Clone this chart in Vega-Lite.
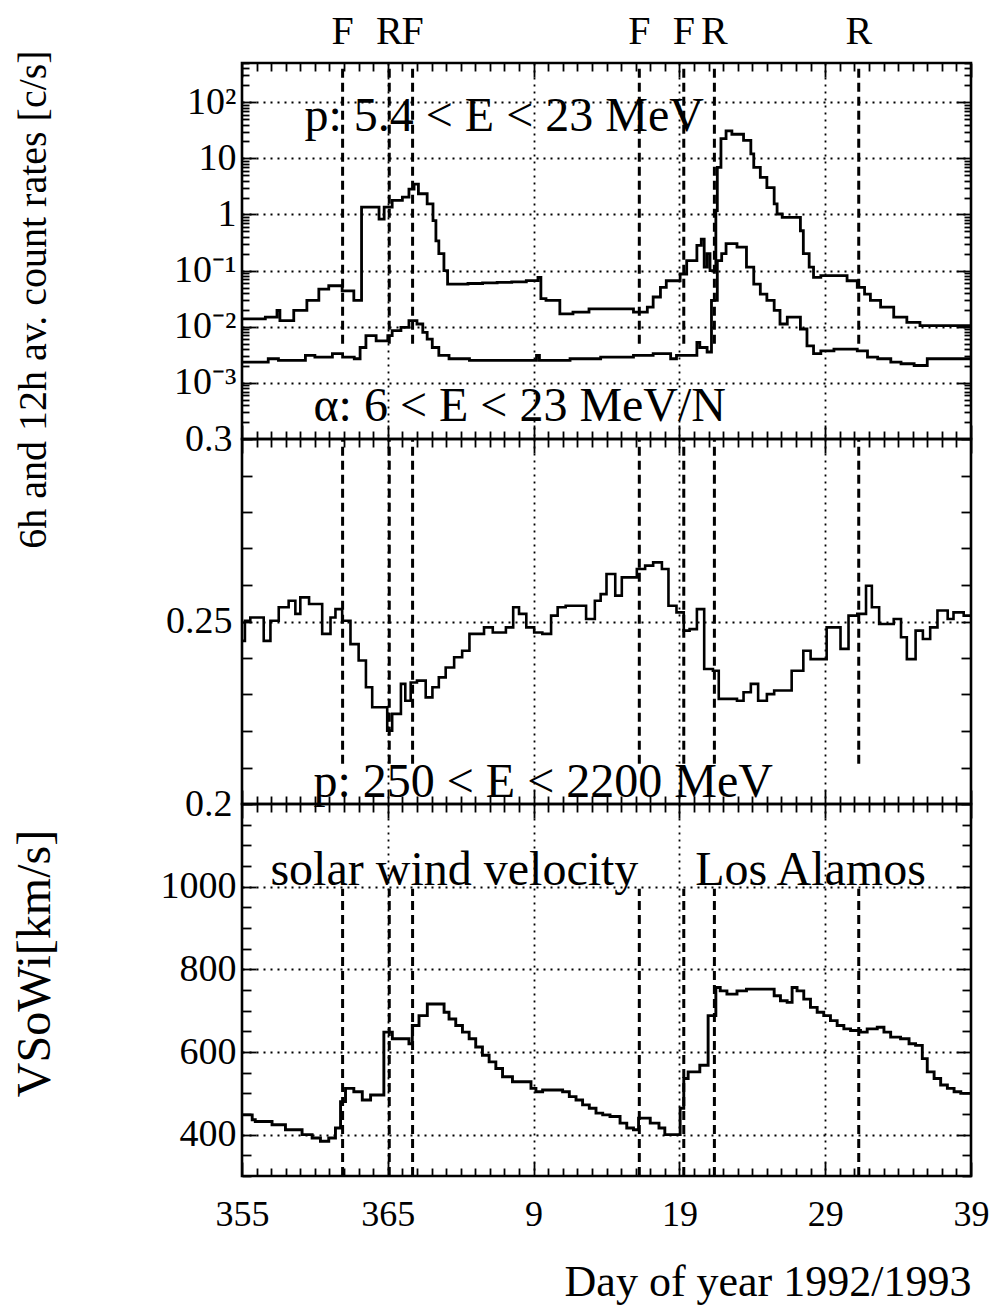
{
  "$schema": "https://vega.github.io/schema/vega-lite/v6.json",
  "background": "white",
  "padding": {"left": 9, "top": 10, "right": 5, "bottom": 5},
  "bounds": "flush",
  "spacing": 0,
  "config": {
    "font": "Liberation Serif",
    "view": {"stroke": "black", "strokeWidth": 2.6},
    "style": {"guide-label": {"font": "Liberation Serif"}, "guide-title": {"font": "Liberation Serif"}},
    "axis": {"domain": false, "tickColor": "black", "tickWidth": 1.8, "labelColor": "black", "labelFont": "Liberation Serif", "labelFontSize": 38, "titleFont": "Liberation Serif", "titleFontWeight": "normal", "titleColor": "black", "titleFontSize": 40, "labelFlush": false, "labelOverlap": false, "labelBound": false, "gridColor": "black", "gridDash": [2, 5], "gridWidth": 1.8},
    "text": {"font": "Liberation Serif", "color": "black"}
  },
  "datasets": {
    "events": [
      {"t": 6.9, "lab": "F"}, {"t": 10.1, "lab": "R"}, {"t": 11.7, "lab": "F"},
      {"t": 27.25, "lab": "F"}, {"t": 30.3, "lab": "F"}, {"t": 32.4, "lab": "R"}, {"t": 42.3, "lab": "R"}
    ],
    "top": [
      {"s": "p", "t": 0, "v": 0.0138}, {"s": "p", "t": 1.6, "v": 0.0148}, {"s": "p", "t": 2.4, "v": 0.0195}, {"s": "p", "t": 2.6, "v": 0.0129},
      {"s": "p", "t": 3.55, "v": 0.0195}, {"s": "p", "t": 4.45, "v": 0.0295}, {"s": "p", "t": 5.27, "v": 0.0468}, {"s": "p", "t": 5.95, "v": 0.0537},
      {"s": "p", "t": 6.87, "v": 0.0437}, {"s": "p", "t": 7.67, "v": 0.0295}, {"s": "p", "t": 8.2, "v": 1.35}, {"s": "p", "t": 9.4, "v": 0.83},
      {"s": "p", "t": 9.75, "v": 1.35}, {"s": "p", "t": 10.3, "v": 1.78}, {"s": "p", "t": 11.0, "v": 2.04}, {"s": "p", "t": 11.45, "v": 2.82},
      {"s": "p", "t": 11.8, "v": 3.47}, {"s": "p", "t": 12.1, "v": 2.34}, {"s": "p", "t": 12.7, "v": 1.55}, {"s": "p", "t": 13.1, "v": 0.776},
      {"s": "p", "t": 13.3, "v": 0.339}, {"s": "p", "t": 13.5, "v": 0.2}, {"s": "p", "t": 13.85, "v": 0.1}, {"s": "p", "t": 14.1, "v": 0.0575},
      {"s": "p", "t": 15.5, "v": 0.0589}, {"s": "p", "t": 16.5, "v": 0.0603}, {"s": "p", "t": 17.5, "v": 0.0617}, {"s": "p", "t": 18.5, "v": 0.0631},
      {"s": "p", "t": 19.5, "v": 0.0661}, {"s": "p", "t": 20.3, "v": 0.0759}, {"s": "p", "t": 20.5, "v": 0.0316}, {"s": "p", "t": 20.85, "v": 0.0295},
      {"s": "p", "t": 21.8, "v": 0.017}, {"s": "p", "t": 22.7, "v": 0.0182}, {"s": "p", "t": 23.8, "v": 0.0209}, {"s": "p", "t": 26.85, "v": 0.0182},
      {"s": "p", "t": 27.8, "v": 0.0224}, {"s": "p", "t": 28.2, "v": 0.0339}, {"s": "p", "t": 28.7, "v": 0.0501}, {"s": "p", "t": 29.1, "v": 0.066},
      {"s": "p", "t": 30.05, "v": 0.087}, {"s": "p", "t": 30.5, "v": 0.151}, {"s": "p", "t": 31.2, "v": 0.282}, {"s": "p", "t": 31.5, "v": 0.363},
      {"s": "p", "t": 31.7, "v": 0.115}, {"s": "p", "t": 31.9, "v": 0.2}, {"s": "p", "t": 32.1, "v": 0.1}, {"s": "p", "t": 32.5, "v": 1.17},
      {"s": "p", "t": 32.6, "v": 6.92}, {"s": "p", "t": 32.85, "v": 22.4}, {"s": "p", "t": 33.2, "v": 30.9}, {"s": "p", "t": 33.6, "v": 26.9},
      {"s": "p", "t": 34.4, "v": 20.9}, {"s": "p", "t": 34.9, "v": 12.0}, {"s": "p", "t": 35.1, "v": 6.92}, {"s": "p", "t": 35.55, "v": 4.57},
      {"s": "p", "t": 36.0, "v": 3.02}, {"s": "p", "t": 36.5, "v": 1.55}, {"s": "p", "t": 36.7, "v": 1.02}, {"s": "p", "t": 37.05, "v": 0.891},
      {"s": "p", "t": 38.3, "v": 0.513}, {"s": "p", "t": 38.5, "v": 0.2}, {"s": "p", "t": 38.9, "v": 0.115}, {"s": "p", "t": 39.2, "v": 0.0759},
      {"s": "p", "t": 39.7, "v": 0.0813}, {"s": "p", "t": 41.5, "v": 0.066}, {"s": "p", "t": 42.2, "v": 0.0501}, {"s": "p", "t": 42.7, "v": 0.038},
      {"s": "p", "t": 43.1, "v": 0.0295}, {"s": "p", "t": 43.8, "v": 0.0224}, {"s": "p", "t": 44.7, "v": 0.0148}, {"s": "p", "t": 45.6, "v": 0.012},
      {"s": "p", "t": 46.5, "v": 0.0105}, {"s": "p", "t": 50, "v": 0.0105},
      {"s": "a", "t": 0, "v": 0.00234}, {"s": "a", "t": 1.8, "v": 0.00269}, {"s": "a", "t": 2.5, "v": 0.00251}, {"s": "a", "t": 4.35, "v": 0.00309},
      {"s": "a", "t": 5.0, "v": 0.00288}, {"s": "a", "t": 6.2, "v": 0.00331}, {"s": "a", "t": 6.9, "v": 0.00288}, {"s": "a", "t": 7.7, "v": 0.00269},
      {"s": "a", "t": 8.1, "v": 0.00427}, {"s": "a", "t": 8.5, "v": 0.00692}, {"s": "a", "t": 9.2, "v": 0.00562}, {"s": "a", "t": 10.0, "v": 0.00692},
      {"s": "a", "t": 10.3, "v": 0.00851}, {"s": "a", "t": 10.9, "v": 0.00977}, {"s": "a", "t": 11.45, "v": 0.0129}, {"s": "a", "t": 12.0, "v": 0.0112},
      {"s": "a", "t": 12.4, "v": 0.00794}, {"s": "a", "t": 12.7, "v": 0.00603}, {"s": "a", "t": 13.05, "v": 0.00427}, {"s": "a", "t": 13.5, "v": 0.00309},
      {"s": "a", "t": 14.2, "v": 0.00269}, {"s": "a", "t": 15.6, "v": 0.00251}, {"s": "a", "t": 20.2, "v": 0.00309}, {"s": "a", "t": 20.4, "v": 0.00251},
      {"s": "a", "t": 22.5, "v": 0.00269}, {"s": "a", "t": 24.6, "v": 0.00288}, {"s": "a", "t": 26.85, "v": 0.00309}, {"s": "a", "t": 28.2, "v": 0.00331},
      {"s": "a", "t": 29.4, "v": 0.00269}, {"s": "a", "t": 29.8, "v": 0.00309}, {"s": "a", "t": 31.2, "v": 0.00525}, {"s": "a", "t": 31.4, "v": 0.00427},
      {"s": "a", "t": 31.9, "v": 0.00355}, {"s": "a", "t": 32.2, "v": 0.0295}, {"s": "a", "t": 32.6, "v": 0.151}, {"s": "a", "t": 32.9, "v": 0.2},
      {"s": "a", "t": 33.2, "v": 0.302}, {"s": "a", "t": 33.95, "v": 0.263}, {"s": "a", "t": 34.6, "v": 0.115}, {"s": "a", "t": 35.1, "v": 0.0575},
      {"s": "a", "t": 35.55, "v": 0.038}, {"s": "a", "t": 36.0, "v": 0.0295}, {"s": "a", "t": 36.5, "v": 0.0195}, {"s": "a", "t": 36.9, "v": 0.0112},
      {"s": "a", "t": 37.4, "v": 0.0148}, {"s": "a", "t": 38.3, "v": 0.00912}, {"s": "a", "t": 38.75, "v": 0.00457}, {"s": "a", "t": 39.2, "v": 0.00331},
      {"s": "a", "t": 39.7, "v": 0.00372}, {"s": "a", "t": 40.6, "v": 0.00398}, {"s": "a", "t": 42.2, "v": 0.00372}, {"s": "a", "t": 42.9, "v": 0.00288},
      {"s": "a", "t": 43.6, "v": 0.00269}, {"s": "a", "t": 44.5, "v": 0.00234}, {"s": "a", "t": 45.2, "v": 0.00219}, {"s": "a", "t": 46.1, "v": 0.00204},
      {"s": "a", "t": 47.0, "v": 0.00269}, {"s": "a", "t": 50, "v": 0.00269}
    ],
    "mid": [
      {"t": 0, "v": 0.2447}, {"t": 0.2, "v": 0.2502}, {"t": 0.57, "v": 0.2511}, {"t": 1.49, "v": 0.2447}, {"t": 1.95, "v": 0.2502},
      {"t": 2.52, "v": 0.2539}, {"t": 3.2, "v": 0.2557}, {"t": 3.66, "v": 0.2521}, {"t": 4.0, "v": 0.2566}, {"t": 4.6, "v": 0.2548},
      {"t": 5.5, "v": 0.2466}, {"t": 6.07, "v": 0.2511}, {"t": 6.41, "v": 0.2534}, {"t": 6.87, "v": 0.2502}, {"t": 7.44, "v": 0.2438},
      {"t": 8.0, "v": 0.2393}, {"t": 8.5, "v": 0.232}, {"t": 8.93, "v": 0.2265}, {"t": 9.96, "v": 0.2201}, {"t": 10.3, "v": 0.2247},
      {"t": 10.9, "v": 0.2329}, {"t": 11.2, "v": 0.2283}, {"t": 11.57, "v": 0.2333}, {"t": 12.0, "v": 0.2338}, {"t": 12.6, "v": 0.2292},
      {"t": 13.06, "v": 0.232}, {"t": 13.5, "v": 0.2347}, {"t": 13.97, "v": 0.2374}, {"t": 14.55, "v": 0.2402}, {"t": 15.1, "v": 0.242},
      {"t": 15.6, "v": 0.2466}, {"t": 16.6, "v": 0.2484}, {"t": 17.2, "v": 0.247}, {"t": 18.1, "v": 0.2484}, {"t": 18.6, "v": 0.2539},
      {"t": 19.0, "v": 0.2521}, {"t": 19.5, "v": 0.2484}, {"t": 20.04, "v": 0.247}, {"t": 20.6, "v": 0.2466}, {"t": 21.2, "v": 0.2516},
      {"t": 21.65, "v": 0.2539}, {"t": 22.2, "v": 0.2543}, {"t": 23.6, "v": 0.2507}, {"t": 24.2, "v": 0.2557}, {"t": 24.6, "v": 0.2575},
      {"t": 25.0, "v": 0.263}, {"t": 25.6, "v": 0.2571}, {"t": 26.05, "v": 0.2621}, {"t": 27.08, "v": 0.2644}, {"t": 27.65, "v": 0.2653},
      {"t": 28.2, "v": 0.2662}, {"t": 28.8, "v": 0.2644}, {"t": 29.25, "v": 0.2543}, {"t": 29.8, "v": 0.2525}, {"t": 30.3, "v": 0.2475},
      {"t": 30.7, "v": 0.2479}, {"t": 31.2, "v": 0.2534}, {"t": 31.7, "v": 0.237}, {"t": 32.3, "v": 0.2365}, {"t": 32.7, "v": 0.2288},
      {"t": 33.95, "v": 0.2283}, {"t": 34.4, "v": 0.2306}, {"t": 34.9, "v": 0.2329}, {"t": 35.4, "v": 0.2283}, {"t": 36.0, "v": 0.2301},
      {"t": 36.5, "v": 0.2311}, {"t": 37.7, "v": 0.2365}, {"t": 38.5, "v": 0.242}, {"t": 39.0, "v": 0.2397}, {"t": 40.1, "v": 0.2484},
      {"t": 41.05, "v": 0.2425}, {"t": 41.6, "v": 0.2516}, {"t": 42.2, "v": 0.2521}, {"t": 42.8, "v": 0.2598}, {"t": 43.2, "v": 0.2539},
      {"t": 43.7, "v": 0.2493}, {"t": 44.7, "v": 0.2507}, {"t": 45.2, "v": 0.2457}, {"t": 45.6, "v": 0.2397}, {"t": 46.2, "v": 0.2475},
      {"t": 46.7, "v": 0.2452}, {"t": 47.2, "v": 0.2484}, {"t": 47.7, "v": 0.253}, {"t": 48.4, "v": 0.2507}, {"t": 48.8, "v": 0.2525},
      {"t": 49.5, "v": 0.2516}, {"t": 50, "v": 0.2516}
    ],
    "wind": [
      {"t": 0, "v": 448}, {"t": 0.7, "v": 436}, {"t": 0.91, "v": 432}, {"t": 2.06, "v": 424}, {"t": 2.98, "v": 412},
      {"t": 4.12, "v": 400}, {"t": 4.81, "v": 392}, {"t": 5.38, "v": 384}, {"t": 5.95, "v": 392}, {"t": 6.41, "v": 416},
      {"t": 6.76, "v": 480}, {"t": 7.1, "v": 512}, {"t": 7.67, "v": 504}, {"t": 8.25, "v": 484}, {"t": 8.82, "v": 496},
      {"t": 9.73, "v": 648}, {"t": 10.31, "v": 632}, {"t": 11.45, "v": 620}, {"t": 11.68, "v": 664}, {"t": 12.14, "v": 688},
      {"t": 12.71, "v": 716}, {"t": 13.86, "v": 696}, {"t": 14.2, "v": 680}, {"t": 14.66, "v": 664}, {"t": 15.12, "v": 648},
      {"t": 15.58, "v": 632}, {"t": 16.03, "v": 612}, {"t": 16.49, "v": 592}, {"t": 16.95, "v": 576}, {"t": 17.41, "v": 560},
      {"t": 17.87, "v": 540}, {"t": 18.55, "v": 528}, {"t": 19.82, "v": 512}, {"t": 20.16, "v": 504}, {"t": 20.62, "v": 508},
      {"t": 21.99, "v": 504}, {"t": 22.45, "v": 492}, {"t": 22.91, "v": 484}, {"t": 23.36, "v": 472}, {"t": 23.82, "v": 464},
      {"t": 24.28, "v": 452}, {"t": 24.74, "v": 448}, {"t": 25.24, "v": 444}, {"t": 25.93, "v": 428}, {"t": 26.39, "v": 416},
      {"t": 26.85, "v": 412}, {"t": 27.2, "v": 440}, {"t": 28.0, "v": 428}, {"t": 28.6, "v": 416}, {"t": 29.0, "v": 400},
      {"t": 30.05, "v": 464}, {"t": 30.3, "v": 536}, {"t": 30.6, "v": 552}, {"t": 31.4, "v": 568}, {"t": 31.97, "v": 688},
      {"t": 32.5, "v": 756}, {"t": 32.8, "v": 748}, {"t": 33.26, "v": 740}, {"t": 33.95, "v": 748}, {"t": 34.6, "v": 752},
      {"t": 36.5, "v": 736}, {"t": 36.93, "v": 724}, {"t": 37.39, "v": 720}, {"t": 37.73, "v": 756}, {"t": 38.07, "v": 748},
      {"t": 38.53, "v": 728}, {"t": 38.99, "v": 708}, {"t": 39.45, "v": 696}, {"t": 39.9, "v": 688}, {"t": 40.36, "v": 676},
      {"t": 40.82, "v": 664}, {"t": 41.28, "v": 656}, {"t": 41.74, "v": 652}, {"t": 42.42, "v": 648}, {"t": 42.88, "v": 656},
      {"t": 43.57, "v": 660}, {"t": 44.03, "v": 648}, {"t": 44.49, "v": 636}, {"t": 45.17, "v": 632}, {"t": 45.75, "v": 620},
      {"t": 46.2, "v": 616}, {"t": 46.66, "v": 584}, {"t": 47.0, "v": 552}, {"t": 47.47, "v": 536}, {"t": 47.92, "v": 520},
      {"t": 48.38, "v": 512}, {"t": 48.84, "v": 504}, {"t": 49.3, "v": 500}, {"t": 50, "v": 500}
    ]
  },
  "vconcat": [
    {
      "width": 729, "height": 376,
      "layer": [
        {
          "data": {"name": "top"},
          "mark": {"type": "line", "interpolate": "step-after", "color": "black", "strokeWidth": 2.8},
          "encoding": {
            "x": {"field": "t", "type": "quantitative", "scale": {"domain": [0, 50], "nice": false, "zero": false},
              "axis": {"orient": "bottom", "labels": false, "title": null,
                "values": [0,1,2,3,4,5,6,7,8,9,10,11,12,13,14,15,16,17,18,19,20,21,22,23,24,25,26,27,28,29,30,31,32,33,34,35,36,37,38,39,40,41,42,43,44,45,46,47,48,49,50],
                "tickSize": {"condition": {"test": "datum.value % 10 === 0", "value": -14}, "value": -8},
                "grid": true,
                "gridOpacity": {"condition": {"test": "datum.value % 10 === 0 && datum.value > 0 && datum.value < 50", "value": 1}, "value": 0}}},
            "y": {"field": "v", "type": "quantitative", "scale": {"type": "log", "domain": [0.0001, 500], "nice": false},
              "axis": {"orient": "left", "title": "6h and 12h av. count rates [c/s]", "titleFont": "Liberation Serif", "labelFont": "Liberation Serif", "titleX": -197, "titleY": 236, "titleAngle": 270, "titleAlign": "center", "titleBaseline": "alphabetic",
                "values": [0.0001,0.0002,0.0003,0.0004,0.0005,0.0006,0.0007,0.0008,0.0009,0.001,0.002,0.003,0.004,0.005,0.006,0.007,0.008,0.009,0.01,0.02,0.03,0.04,0.05,0.06,0.07,0.08,0.09,0.1,0.2,0.3,0.4,0.5,0.6,0.7,0.8,0.9,1,2,3,4,5,6,7,8,9,10,20,30,40,50,60,70,80,90,100,200,300,400,500],
                "labelExpr": "abs(log(datum.value)/LN10-round(log(datum.value)/LN10))>0.01 || datum.value<0.0005 ? '' : datum.value>50 ? '10²' : datum.value>5 ? '10' : datum.value>0.5 ? '1' : datum.value>0.05 ? '10⁻¹' : datum.value>0.005 ? '10⁻²' : '10⁻³'",
                "labelPadding": 20,
                "tickSize": {"condition": {"test": "abs(log(datum.value)/LN10-round(log(datum.value)/LN10))<0.01", "value": -14}, "value": -7},
                "grid": true,
                "gridOpacity": {"condition": {"test": "abs(log(datum.value)/LN10-round(log(datum.value)/LN10))<0.01 && datum.value>0.0005 && datum.value<400", "value": 1}, "value": 0}}},
            "detail": {"field": "s"}
          }
        },
        {
          "data": {"name": "events"},
          "mark": {"type": "rule", "strokeDash": [9, 5], "strokeWidth": 3, "color": "black"},
          "encoding": {
            "x": {"field": "t", "type": "quantitative", "scale": {"domain": [0, 50], "nice": false, "zero": false},
              "axis": {"orient": "top", "labels": false, "title": null, "grid": false,
                "values": [0,1,2,3,4,5,6,7,8,9,10,11,12,13,14,15,16,17,18,19,20,21,22,23,24,25,26,27,28,29,30,31,32,33,34,35,36,37,38,39,40,41,42,43,44,45,46,47,48,49,50],
                "tickSize": {"condition": {"test": "datum.value % 10 === 0", "value": -14}, "value": -8}}},
            "y": {"datum": 0.005, "type": "quantitative", "scale": {"type": "log", "domain": [0.0001, 500], "nice": false},
              "axis": {"orient": "right", "labels": false, "title": null, "grid": false,
                "values": [0.0001,0.0002,0.0003,0.0004,0.0005,0.0006,0.0007,0.0008,0.0009,0.001,0.002,0.003,0.004,0.005,0.006,0.007,0.008,0.009,0.01,0.02,0.03,0.04,0.05,0.06,0.07,0.08,0.09,0.1,0.2,0.3,0.4,0.5,0.6,0.7,0.8,0.9,1,2,3,4,5,6,7,8,9,10,20,30,40,50,60,70,80,90,100,200,300,400,500],
                "tickSize": {"condition": {"test": "abs(log(datum.value)/LN10-round(log(datum.value)/LN10))<0.01", "value": -14}, "value": -7}}},
            "y2": {"datum": 500}
          }
        },
        {
          "data": {"name": "events"},
          "mark": {"type": "text", "fontSize": 40, "baseline": "alphabetic", "align": "center", "font": "Liberation Serif"},
          "encoding": {
            "x": {"field": "t", "type": "quantitative", "axis": null},
            "y": {"datum": 1090, "type": "quantitative", "axis": null},
            "text": {"field": "lab"}
          }
        },
        {
          "data": {"values": [
            {"t": 4.28, "v": 31, "label": "p: 5.4  < E < 23 MeV"},
            {"t": 4.9, "v": 0.000212, "label": "α: 6 < E < 23 MeV/N"}
          ]},
          "mark": {"type": "text", "fontSize": 48, "baseline": "alphabetic", "align": "left", "font": "Liberation Serif"},
          "encoding": {
            "x": {"field": "t", "type": "quantitative", "axis": null},
            "y": {"field": "v", "type": "quantitative", "axis": null},
            "text": {"field": "label"}
          }
        }
      ],
      "resolve": {"axis": {"x": "independent", "y": "independent"}}
    },
    {
      "width": 729, "height": 365,
      "layer": [
        {
          "data": {"name": "mid"},
          "mark": {"type": "line", "interpolate": "step-after", "color": "black", "strokeWidth": 2.6},
          "encoding": {
            "x": {"field": "t", "type": "quantitative", "scale": {"domain": [0, 50], "nice": false, "zero": false},
              "axis": {"orient": "bottom", "labels": false, "title": null,
                "values": [0,1,2,3,4,5,6,7,8,9,10,11,12,13,14,15,16,17,18,19,20,21,22,23,24,25,26,27,28,29,30,31,32,33,34,35,36,37,38,39,40,41,42,43,44,45,46,47,48,49,50],
                "tickSize": {"condition": {"test": "datum.value % 10 === 0", "value": -14}, "value": -8},
                "grid": true,
                "gridOpacity": {"condition": {"test": "datum.value % 10 === 0 && datum.value > 0 && datum.value < 50", "value": 1}, "value": 0}}},
            "y": {"field": "v", "type": "quantitative", "scale": {"domain": [0.2, 0.3], "nice": false, "zero": false},
              "axis": {"orient": "left", "title": null, "labelFont": "Liberation Serif",
                "values": [0.2,0.21,0.22,0.23,0.24,0.25,0.26,0.27,0.28,0.29,0.3],
                "labelExpr": "abs(datum.value-0.25)<0.001 ? '0.25' : abs(datum.value-0.3)<0.001 ? '0.3' : abs(datum.value-0.2)<0.001 ? '0.2' : ''",
                "labelPadding": 20,
                "tickSize": -10,
                "grid": true,
                "gridOpacity": {"condition": {"test": "abs(datum.value-0.25)<0.001", "value": 1}, "value": 0}}}
          }
        },
        {
          "data": {"name": "events"},
          "mark": {"type": "rule", "strokeDash": [9, 5], "strokeWidth": 3, "color": "black"},
          "encoding": {
            "x": {"field": "t", "type": "quantitative", "scale": {"domain": [0, 50], "nice": false, "zero": false},
              "axis": {"orient": "top", "labels": false, "title": null, "grid": false,
                "values": [0,1,2,3,4,5,6,7,8,9,10,11,12,13,14,15,16,17,18,19,20,21,22,23,24,25,26,27,28,29,30,31,32,33,34,35,36,37,38,39,40,41,42,43,44,45,46,47,48,49,50],
                "tickSize": {"condition": {"test": "datum.value % 10 === 0", "value": -14}, "value": -8}}},
            "y": {"datum": 0.211, "type": "quantitative", "scale": {"domain": [0.2, 0.3], "nice": false, "zero": false},
              "axis": {"orient": "right", "labels": false, "title": null, "grid": false,
                "values": [0.2,0.21,0.22,0.23,0.24,0.25,0.26,0.27,0.28,0.29,0.3], "tickSize": -10}},
            "y2": {"datum": 0.3}
          }
        },
        {
          "data": {"values": [{"t": 4.9, "v": 0.2019, "label": "p:  250  < E < 2200 MeV"}]},
          "mark": {"type": "text", "fontSize": 48, "baseline": "alphabetic", "align": "left", "font": "Liberation Serif"},
          "encoding": {
            "x": {"field": "t", "type": "quantitative", "axis": null},
            "y": {"field": "v", "type": "quantitative", "axis": null},
            "text": {"field": "label"}
          }
        }
      ],
      "resolve": {"axis": {"x": "independent", "y": "independent"}}
    },
    {
      "width": 729, "height": 372,
      "layer": [
        {
          "data": {"name": "wind"},
          "mark": {"type": "line", "interpolate": "step-after", "color": "black", "strokeWidth": 2.9},
          "encoding": {
            "x": {"field": "t", "type": "quantitative", "scale": {"domain": [0, 50], "nice": false, "zero": false},
              "axis": {"orient": "bottom", "title": "Day of year 1992/1993", "titleFont": "Liberation Serif", "labelFont": "Liberation Serif", "labelFontSize": 36, "titleAnchor": "end", "titleFontSize": 44, "titlePadding": 22,
                "values": [0,1,2,3,4,5,6,7,8,9,10,11,12,13,14,15,16,17,18,19,20,21,22,23,24,25,26,27,28,29,30,31,32,33,34,35,36,37,38,39,40,41,42,43,44,45,46,47,48,49,50],
                "labelExpr": "datum.value % 10 === 0 ? '' + (datum.value <= 11 ? 355 + datum.value : datum.value - 11) : ''",
                "labelPadding": 35,
                "tickSize": {"condition": {"test": "datum.value % 10 === 0", "value": -14}, "value": -8},
                "grid": true,
                "gridOpacity": {"condition": {"test": "datum.value % 10 === 0 && datum.value > 0 && datum.value < 50", "value": 1}, "value": 0}}},
            "y": {"field": "v", "type": "quantitative", "scale": {"domain": [300, 1200], "nice": false, "zero": false},
              "axis": {"orient": "left", "title": "VSoWi[km/s]", "titleFont": "Liberation Serif", "labelFont": "Liberation Serif", "titleFontSize": 48, "titleX": -193, "titleY": 159, "titleAngle": 270, "titleAlign": "center", "titleBaseline": "alphabetic",
                "values": [300,350,400,450,500,550,600,650,700,750,800,850,900,950,1000,1050,1100,1150,1200],
                "labelExpr": "datum.value % 200 === 0 && datum.value >= 400 && datum.value <= 1000 ? '' + datum.value : ''",
                "labelPadding": 20,
                "tickSize": {"condition": {"test": "datum.value % 200 === 0", "value": -14}, "value": -9},
                "grid": true,
                "gridOpacity": {"condition": {"test": "datum.value % 200 === 0 && datum.value >= 400 && datum.value <= 1000", "value": 1}, "value": 0}}}
          }
        },
        {
          "data": {"name": "events"},
          "mark": {"type": "rule", "strokeDash": [9, 5], "strokeWidth": 3, "color": "black"},
          "encoding": {
            "x": {"field": "t", "type": "quantitative", "scale": {"domain": [0, 50], "nice": false, "zero": false},
              "axis": {"orient": "top", "labels": false, "title": null, "grid": false,
                "values": [0,1,2,3,4,5,6,7,8,9,10,11,12,13,14,15,16,17,18,19,20,21,22,23,24,25,26,27,28,29,30,31,32,33,34,35,36,37,38,39,40,41,42,43,44,45,46,47,48,49,50],
                "tickSize": {"condition": {"test": "datum.value % 10 === 0", "value": -14}, "value": -8}}},
            "y": {"datum": 300, "type": "quantitative", "scale": {"domain": [300, 1200], "nice": false, "zero": false},
              "axis": {"orient": "right", "labels": false, "title": null, "grid": false,
                "values": [300,350,400,450,500,550,600,650,700,750,800,850,900,950,1000,1050,1100,1150,1200],
                "tickSize": {"condition": {"test": "datum.value % 200 === 0", "value": -14}, "value": -9}}},
            "y2": {"datum": 995}
          }
        },
        {
          "data": {"values": [
            {"t": 1.95, "v": 1004, "label": "solar wind velocity"},
            {"t": 31.08, "v": 1004, "label": "Los Alamos"}
          ]},
          "mark": {"type": "text", "fontSize": 48, "baseline": "alphabetic", "align": "left", "font": "Liberation Serif"},
          "encoding": {
            "x": {"field": "t", "type": "quantitative", "axis": null},
            "y": {"field": "v", "type": "quantitative", "axis": null},
            "text": {"field": "label"}
          }
        }
      ],
      "resolve": {"axis": {"x": "independent", "y": "independent"}}
    }
  ]
}
